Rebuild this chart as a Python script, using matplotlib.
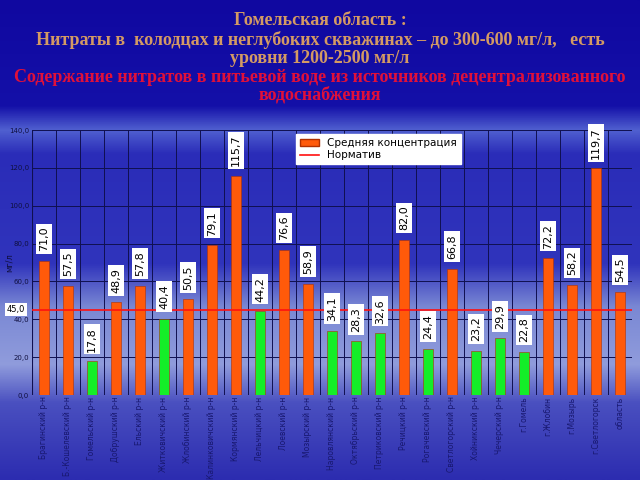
import numpy as np
import matplotlib.pyplot as plt
from matplotlib.colors import LinearSegmentedColormap
from matplotlib.patches import Patch
from matplotlib.lines import Line2D

districts = ["Брагинский р-н", "Б.-Кошелевский р-н", "Гомельский р-н", "Добрушский р-н",
             "Ельский р-н", "Житковичский р-н", "Жлобинский р-н", "Калинковичский р-н",
             "Кормянский р-н", "Лельчицкий р-н", "Лоевский р-н", "Мозырский р-н",
             "Наровлянский р-н", "Октябрьский р-н", "Петриковский р-н", "Речицкий р-н",
             "Рогачевский р-н", "Светлогорский р-н", "Хойникский р-н", "Чечерский р-н",
             "г.Гомель", "г.Жлобин", "г.Мозырь", "г.Светлогорск", "область"]
concentration = [71.0, 57.5, 17.8, 48.9, 57.8, 40.4, 50.5, 79.1, 115.7, 44.2, 76.6, 58.9,
                 34.1, 28.3, 32.6, 82.0, 24.4, 66.8, 23.2, 29.9, 22.8, 72.2, 58.2, 119.7, 54.5]
norm = 45.0
y_ticks = [0, 20, 40, 60, 80, 100, 120, 140]

fig = plt.figure(figsize=(6.4, 4.8), dpi=100)

# background gradient (dark blue top, light cloudy band low down)
bg = fig.add_axes([0, 0, 1, 1], zorder=0)
cmap = LinearSegmentedColormap.from_list("sky", [
    (0.0, "#1008a0"), (0.22, "#1410a8"), (0.27, "#5060d0"), (0.32, "#2a2cb8"),
    (0.55, "#3034bc"), (0.64, "#7a88d4"), (0.76, "#909cdc"), (0.84, "#4a50c0"),
    (1.0, "#2c2cb0")])
grad = np.linspace(0, 1, 256).reshape(-1, 1)
bg.imshow(grad, aspect="auto", cmap=cmap, extent=[0, 1, 0, 1])
bg.axis("off")

ax = fig.add_axes([0.05, 0.177, 0.9375, 0.552], zorder=1)
ax.patch.set_alpha(0)

x = np.arange(len(districts))
colors = ["#ff5a0a" if v >= norm else "#14ee28" for v in concentration]
ax.bar(x, concentration, width=0.4, color=colors, edgecolor="#b03000", linewidth=0.4, zorder=3)
ax.axhline(norm, color="#ff1010", linewidth=1.2, zorder=4)

for xi, v in zip(x, concentration):
    ax.annotate(f"{v:.1f}".replace(".", ","), (xi, v), xytext=(0, 7), textcoords="offset points",
                rotation=90, ha="center", va="bottom", fontsize=8, color="black",
                bbox=dict(boxstyle="square,pad=0.25", fc="white", ec="none"), zorder=5)

ax.set_xlim(-0.5, len(districts) - 0.5)
ax.set_ylim(0, 140)
ax.set_yticks(y_ticks)
ax.set_yticklabels([f"{t:.1f}".replace(".", ",") for t in y_ticks], fontsize=5, color="#101040")
ax.set_xticks(x)
ax.set_xticklabels(districts, rotation=90, fontsize=5.5, color="#181870", va="top")
ax.tick_params(axis="y", length=0, pad=2)
ax.tick_params(axis="x", length=0, pad=1)
ax.set_xticks(np.arange(len(districts)) + 0.5, minor=True)
ax.tick_params(axis="x", which="minor", length=0)
ax.grid(axis="x", which="minor", color="#101050", linewidth=0.7, zorder=1)
ax.grid(axis="y", which="major", color="#101050", linewidth=0.7, zorder=1)
for s in ax.spines.values():
    s.set_visible(False)
ax.axvline(-0.5, color="#101050", linewidth=0.8)
ax.set_ylabel("мг/л", fontsize=6, color="#101040")
ax.yaxis.set_label_coords(-0.03, 0.5)

ax.text(-0.027, norm, "45,0", transform=ax.get_yaxis_transform(), fontsize=6, ha="center",
        va="center", color="black", bbox=dict(boxstyle="square,pad=0.25", fc="white", ec="none"),
        zorder=6)

handles = [Patch(facecolor="#ff5a0a", edgecolor="#b03000", label="Средняя концентрация"),
           Line2D([0], [0], color="#ff1010", linewidth=1.2, label="Норматив")]
leg = ax.legend(handles=handles, loc="upper left", bbox_to_anchor=(0.44, 0.985), fontsize=7.5,
                frameon=True, fancybox=False, edgecolor="white", framealpha=1,
                borderpad=0.4, labelspacing=0.2, handlelength=1.8, borderaxespad=0)
leg.set_zorder(7)

title_color = "#d49a64"
red = "#e0103a"
serif = ["Liberation Serif", "DejaVu Serif"]
fs = 13
fig.text(0.5, 0.958, "Гомельская область :", ha="center", va="center", fontsize=fs,
         fontweight="bold", color=title_color, family=serif)
fig.text(0.5, 0.917, "Нитраты в  колодцах и неглубоких скважинах – до 300-600 мг/л,   есть",
         ha="center", va="center", fontsize=fs, fontweight="bold", color=title_color, family=serif)
fig.text(0.5, 0.879, "уровни 1200-2500 мг/л", ha="center", va="center", fontsize=fs,
         fontweight="bold", color=title_color, family=serif)
fig.text(0.5, 0.839, "Содержание нитратов в питьевой воде из источников децентрализованного",
         ha="center", va="center", fontsize=fs, fontweight="bold", color=red, family=serif)
fig.text(0.5, 0.802, "водоснабжения", ha="center", va="center", fontsize=fs,
         fontweight="bold", color=red, family=serif)

fig.savefig("out.png", dpi=100)
